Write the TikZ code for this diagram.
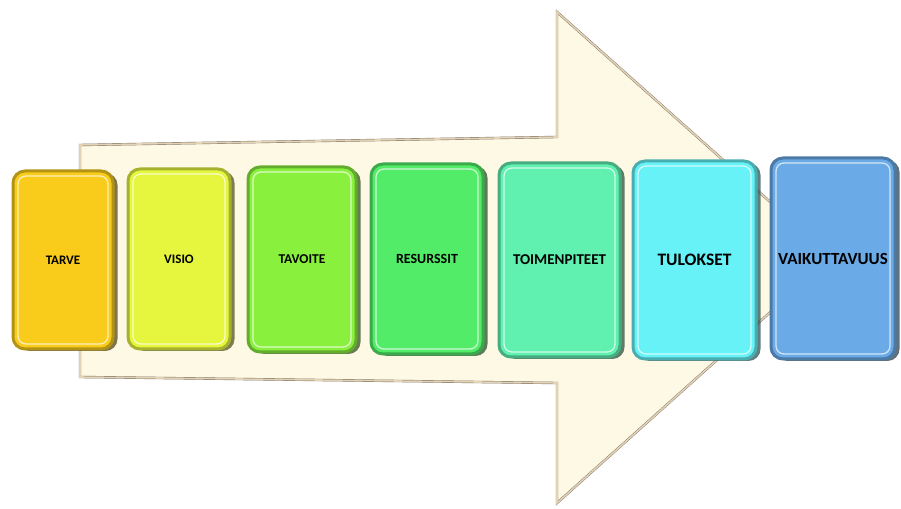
\documentclass[tikz,border=0pt]{standalone}
\usepackage{fontspec}
\setmainfont{Carlito}
\usepackage{xcolor}
\usepackage{tikz}
\usetikzlibrary{positioning,shadows}

\definecolor{tarveC}{RGB}{249,204,28}
\definecolor{visioC}{RGB}{230,246,62}
\definecolor{tavoiteC}{RGB}{138,240,62}
\definecolor{resurssitC}{RGB}{82,236,104}
\definecolor{toimenC}{RGB}{96,240,176}
\definecolor{tuloksetC}{RGB}{102,242,246}
\definecolor{vaikC}{RGB}{106,170,230}
\definecolor{creamC}{RGB}{253,249,228}

\begin{document}
\begin{tikzpicture}[
  x=1pt, y=1pt,
  flow/.style={fill=creamC, draw={rgb,255:red,120;green,110;blue,100}, line width=0.4pt,
    double={rgb,255:red,228;green,210;blue,180}, double distance=1.6pt, line join=miter},
  stage/.style={fill=#1, draw=#1!72!black, line width=3pt, rounded corners=12pt,
    inner sep=0pt, align=center,
    drop shadow={shadow xshift=4.5pt, shadow yshift=-2pt, opacity=0.7, fill=#1!30!black},
    path picture={\draw[white, opacity=0.7, line width=1.3pt, rounded corners=8pt]
      ([xshift=5pt,yshift=-5pt]path picture bounding box.north west) rectangle
      ([xshift=-5pt,yshift=5pt]path picture bounding box.south east);}},
  lbl/.style={font=\bfseries\fontsize{#1}{#1}\selectfont},
]
\useasboundingbox (0,0) rectangle (901,508);

% Big arrow behind the stages
\draw[flow] (80,363) -- (557,371) -- (557,496) -- (832,251) -- (557,5) -- (557,125) -- (80,131) -- cycle;

% Stages
\node[stage=tarveC, minimum width=100pt, minimum height=178pt, lbl=13] (tarve) at (63,248) {TARVE};
\node[stage=visioC, minimum width=102pt, minimum height=180pt, lbl=13] (visio) at (179,249) {VISIO};
\node[stage=tavoiteC, minimum width=108pt, minimum height=185pt, lbl=13.5] (tavoite) at (302,248.5) {TAVOITE};
\node[stage=resurssitC, minimum width=112pt, minimum height=190pt, lbl=14] (resurssit) at (427,249) {RESURSSIT};
\node[stage=toimenC, minimum width=121pt, minimum height=194pt, lbl=15] (toimen) at (559.5,248) {TOIMENPITEET};
\node[stage=tuloksetC, minimum width=123pt, minimum height=198pt, lbl=17.5] (tulokset) at (694.5,248) {TULOKSET};
\node[stage=vaikC, minimum width=124pt, minimum height=201pt, lbl=17] (vaik) at (833,249.5) {VAIKUTTAVUUS};
\end{tikzpicture}
\end{document}
